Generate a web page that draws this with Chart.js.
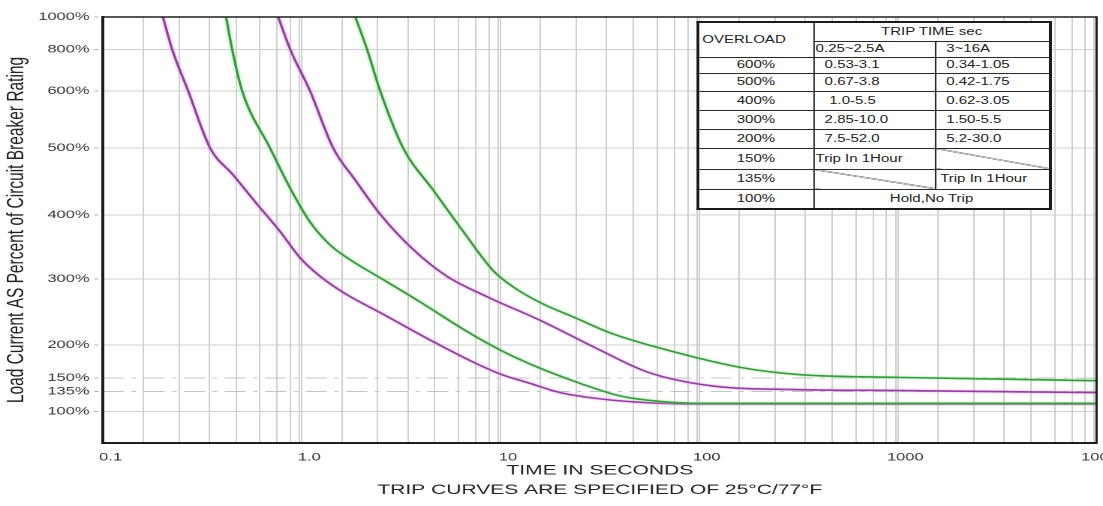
<!DOCTYPE html>
<html>
<head>
<meta charset="utf-8">
<script src="https://cdn.jsdelivr.net/npm/chart.js@4.4.1/dist/chart.umd.min.js"></script>
<style>
    html, body { margin: 0; padding: 0; background: #fff; overflow: hidden; }
    /* the reference is stretched sideways, so the whole drawing is too */
    #stage { position: relative; width: 735px; height: 506px; transform: scaleX(1.50068); transform-origin: 0 0; }
    #wrap { position: absolute; left: 0; top: 0; width: 735px; height: 506px; }
    #trip { position: absolute; left: 464px; top: 21px; width: 235px; border-collapse: collapse; table-layout: fixed;
            background: #fff; border: 2px solid #1a1a1a; font: 10px 'Liberation Sans', Arial, sans-serif; color: #222; }
    #trip td { border: 1px solid #2a2a2a; padding: 0 0 0 7px; white-space: nowrap; line-height: 1; overflow: hidden; }
    #trip td.c { text-align: center; padding: 0; }
    #trip td.slash { background: linear-gradient(to top right, transparent calc(50% - 0.7px), #333 50%, transparent calc(50% + 0.7px)); }
</style>
</head>
<body>
<div id="stage">
    <div id="wrap"><canvas id="tripChart"></canvas></div>
    <table id="trip">
        <colgroup><col style="width:77px"><col style="width:81px"><col style="width:77px"></colgroup>
        <tr style="height:19px"><td rowspan="2" style="padding-left:2px">OVERLOAD</td><td colspan="2" class="c">TRIP TIME sec</td></tr>
        <tr style="height:16px"><td style="padding-left:1px">0.25~2.5A</td><td>3~16A</td></tr>
        <tr style="height:16px"><td class="c">600%</td><td>0.53-3.1</td><td>0.34-1.05</td></tr>
        <tr style="height:18px"><td class="c">500%</td><td>0.67-3.8</td><td>0.42-1.75</td></tr>
        <tr style="height:19px"><td class="c">400%</td><td style="padding-left:10px">1.0-5.5</td><td>0.62-3.05</td></tr>
        <tr style="height:19px"><td class="c">300%</td><td>2.85-10.0</td><td>1.50-5.5</td></tr>
        <tr style="height:19px"><td class="c">200%</td><td>7.5-52.0</td><td>5.2-30.0</td></tr>
        <tr style="height:21px"><td class="c">150%</td><td style="padding-left:1px">Trip In 1Hour</td><td class="slash"></td></tr>
        <tr style="height:20px"><td class="c">135%</td><td class="slash"></td><td style="padding-left:3px">Trip In 1Hour</td></tr>
        <tr style="height:20px"><td class="c">100%</td><td colspan="2" class="c">Hold,No Trip</td></tr>
    </table>
</div>
<script>
// trip curves: time in seconds / load in %
let curveATime = [0.2, 0.2225, 0.268, 0.346, 0.451, 0.596, 0.778, 0.982, 1.24, 1.65, 2.48, 4.7, 7.05, 9.98, 14.1, 20, 31.8, 56.8, 101, 10000];
let curveALoad = [1000, 800, 600, 500, 460, 416, 374, 333, 304, 278, 249, 203, 176, 156, 144, 133, 122, 115, 113, 113];

let curveBTime = [0.416, 0.446, 0.501, 0.693, 0.874, 1.1, 1.39, 1.86, 2.48, 3.95, 6.8, 9.98, 14.1, 25.2, 40.1, 66, 101, 10000];
let curveBLoad = [1000, 800, 600, 500, 440, 389, 353, 325, 302, 265, 220, 192, 171, 144, 127, 117, 114, 114];

let curveCTime = [0.761, 0.874, 1.1, 1.44, 1.86, 2.48, 3.64, 5.4, 8.58, 15.9, 30.7, 54.9, 118, 323, 1030, 10000];
let curveCLoad = [1000, 800, 600, 500, 452, 401, 346, 304, 273, 237, 194, 159, 141, 137, 136, 133];

let curveDTime = [1.86, 2.13, 2.48, 3.24, 4.59, 6.5, 9.2, 11.6, 15.9, 23.8, 35.7, 61.6, 161, 323, 1000, 3000, 10000];
let curveDLoad = [1000, 800, 600, 500, 437, 374, 313, 288, 264, 241, 218, 196, 166, 155, 151, 149, 147];

// axes
let xTickValues = [0.1, 1, 10, 100, 1000, 10000];
let xTickLabels = ["0.1", "1.0", "10", "100", "1000", "10000"];
let xMinorSteps = [1.59, 2.41, 3.42, 4.67, 6.16, 7.52, 8.76, 9.75];

let yTickValues = [100, 135, 150, 200, 300, 400, 500, 600, 800, 1000];
let yDashedValues = [150, 135];

// the load axis is not linear: where each level sits, 0 = bottom, 1 = top
let yShape = [[50, 0], [100, 0.0741], [135, 0.121], [150, 0.1525], [200, 0.2306], [300, 0.3847],
              [400, 0.5355], [500, 0.692], [600, 0.8264], [800, 0.9242], [1000, 1]];

function shapeDecimal(v){
    for(let i = 1; i < yShape.length; i++){
        if(v <= yShape[i][0] || i == yShape.length - 1){
            let a = yShape[i - 1], b = yShape[i];
            return a[1] + (v - a[0]) * (b[1] - a[1]) / (b[0] - a[0]);
        }
    }
}

function shapeValue(d){
    for(let i = 1; i < yShape.length; i++){
        if(d <= yShape[i][1] || i == yShape.length - 1){
            let a = yShape[i - 1], b = yShape[i];
            return a[0] + (d - a[1]) * (b[0] - a[0]) / (b[1] - a[1]);
        }
    }
}

class KneeScale extends Chart.LinearScale {
    buildTicks(){
        this.start = this.min;
        this.end = this.max;
        return yTickValues.map(v => ({ value: v }));
    }
    getPixelForValue(value){
        return this.getPixelForDecimal(shapeDecimal(value));
    }
    getValueForPixel(pixel){
        return shapeValue(this.getDecimalForPixel(pixel));
    }
}
KneeScale.id = "knee";
Chart.register(KneeScale);

function pairs(times, loads){
    return times.map((t, i) => ({ x: t, y: loads[i] }));
}

// line with a soft coloured glow round it
const haloPlugin = {
    id: "halo",
    beforeDatasetDraw(chart, args){
        let ds = chart.data.datasets[args.index];
        if(!ds.halo) return;
        chart.ctx.save();
        chart.ctx.shadowColor = ds.halo;
        chart.ctx.shadowBlur = 4;
    },
    afterDatasetDraw(chart, args){
        if(chart.data.datasets[args.index].halo) chart.ctx.restore();
    }
};

const framePlugin = {
    id: "frame",
    afterDraw(chart){
        let a = chart.chartArea;
        let ctx = chart.ctx;
        ctx.save();
        ctx.strokeStyle = "#1e1e1e";
        ctx.lineWidth = 1.5;
        ctx.strokeRect(a.left, a.top, a.right - a.left, a.bottom - a.top);
        ctx.restore();
    }
};

const magenta = "#8c4497";
const magentaHalo = "rgba(238,135,248,0.95)";
const green = "#3f9445";
const greenHalo = "rgba(125,238,125,0.95)";

function curve(times, loads, color, glow){
    return {
        data: pairs(times, loads),
        borderColor: color,
        halo: glow,
        borderWidth: 1.6,
        pointRadius: 0,
        fill: false,
        cubicInterpolationMode: "monotone"
    };
}

let datasets = [
    curve(curveBTime, curveBLoad, green, greenHalo),
    curve(curveATime, curveALoad, magenta, magentaHalo),
    curve(curveDTime, curveDLoad, green, greenHalo),
    curve(curveCTime, curveCLoad, magenta, magentaHalo)
];

// dashed guide lines at 150% and 135%
yDashedValues.forEach(v => {
    datasets.push({
        data: [{ x: xTickValues[0], y: v }, { x: xTickValues[xTickValues.length - 1], y: v }],
        borderColor: "#c4c4c4",
        borderWidth: 1,
        borderDash: [14, 5, 3, 5],
        pointRadius: 0,
        fill: false
    });
});

Chart.defaults.font.family = "'Liberation Sans', Arial, sans-serif";

let ctx = document.getElementById("tripChart").getContext("2d");

let chart = new Chart(ctx, {
    type: "line",
    data: { datasets: datasets },
    plugins: [haloPlugin, framePlugin],
    options: {
        responsive: true,
        maintainAspectRatio: false,
        devicePixelRatio: 2,
        animation: false,
        layout: { padding: { left: 0, right: 4.3, top: 17, bottom: 0 } },
        plugins: {
            legend: { display: false },
            tooltip: { enabled: false }
        },
        scales: {
            x: {
                type: "logarithmic",
                min: 0.1,
                max: 10000,
                afterBuildTicks: scale => {
                    let ticks = [];
                    xTickValues.forEach((v, i) => {
                        ticks.push({ value: v, major: true });
                        if(i < xTickValues.length - 1){
                            xMinorSteps.forEach(m => ticks.push({ value: v * m }));
                        }
                    });
                    scale.ticks = ticks;
                },
                afterFit: scale => {
                    scale.height = 63;
                    scale.paddingLeft = 0;
                    scale.paddingRight = 0;
                },
                grid: { color: "#cfcfcf", lineWidth: 1, drawTicks: false },
                border: { color: "#1e1e1e", width: 2 },
                ticks: {
                    autoSkip: false,
                    maxRotation: 0,
                    padding: 8,
                    labelOffset: 5,
                    color: "#333",
                    font: { size: 11 },
                    callback: function(value){
                        let i = xTickValues.indexOf(value);
                        return i >= 0 ? xTickLabels[i] : "";
                    }
                },
                title: {
                    display: true,
                    text: ["TIME IN SECONDS", "TRIP CURVES ARE SPECIFIED OF 25°C/77°F"],
                    color: "#222",
                    font: { size: 14, lineHeight: 1.4 },
                    padding: { top: 0, bottom: 6 }
                }
            },
            y: {
                type: "knee",
                min: 50,
                max: 1000,
                afterFit: scale => {
                    scale.width = 68.7;
                    scale.paddingTop = 0;
                    scale.paddingBottom = 0;
                },
                grid: {
                    color: c => yDashedValues.includes(c.tick.value) ? "rgba(0,0,0,0)" : "#cfcfcf",
                    lineWidth: 1,
                    tickLength: 6,
                    tickColor: "#b0b0b0",
                    tickBorderDash: [3, 2]
                },
                border: { color: "#1e1e1e", width: 2 },
                ticks: {
                    autoSkip: false,
                    padding: 3,
                    color: "#333",
                    font: { size: 11 },
                    callback: v => v + "%"
                },
                title: {
                    display: true,
                    text: "Load Current AS Percent of Circuit Breaker Rating",
                    color: "#222",
                    font: { size: 15.5 },
                    padding: { top: 2, bottom: 0 }
                }
            }
        }
    }
});
</script>
</body>
</html>
